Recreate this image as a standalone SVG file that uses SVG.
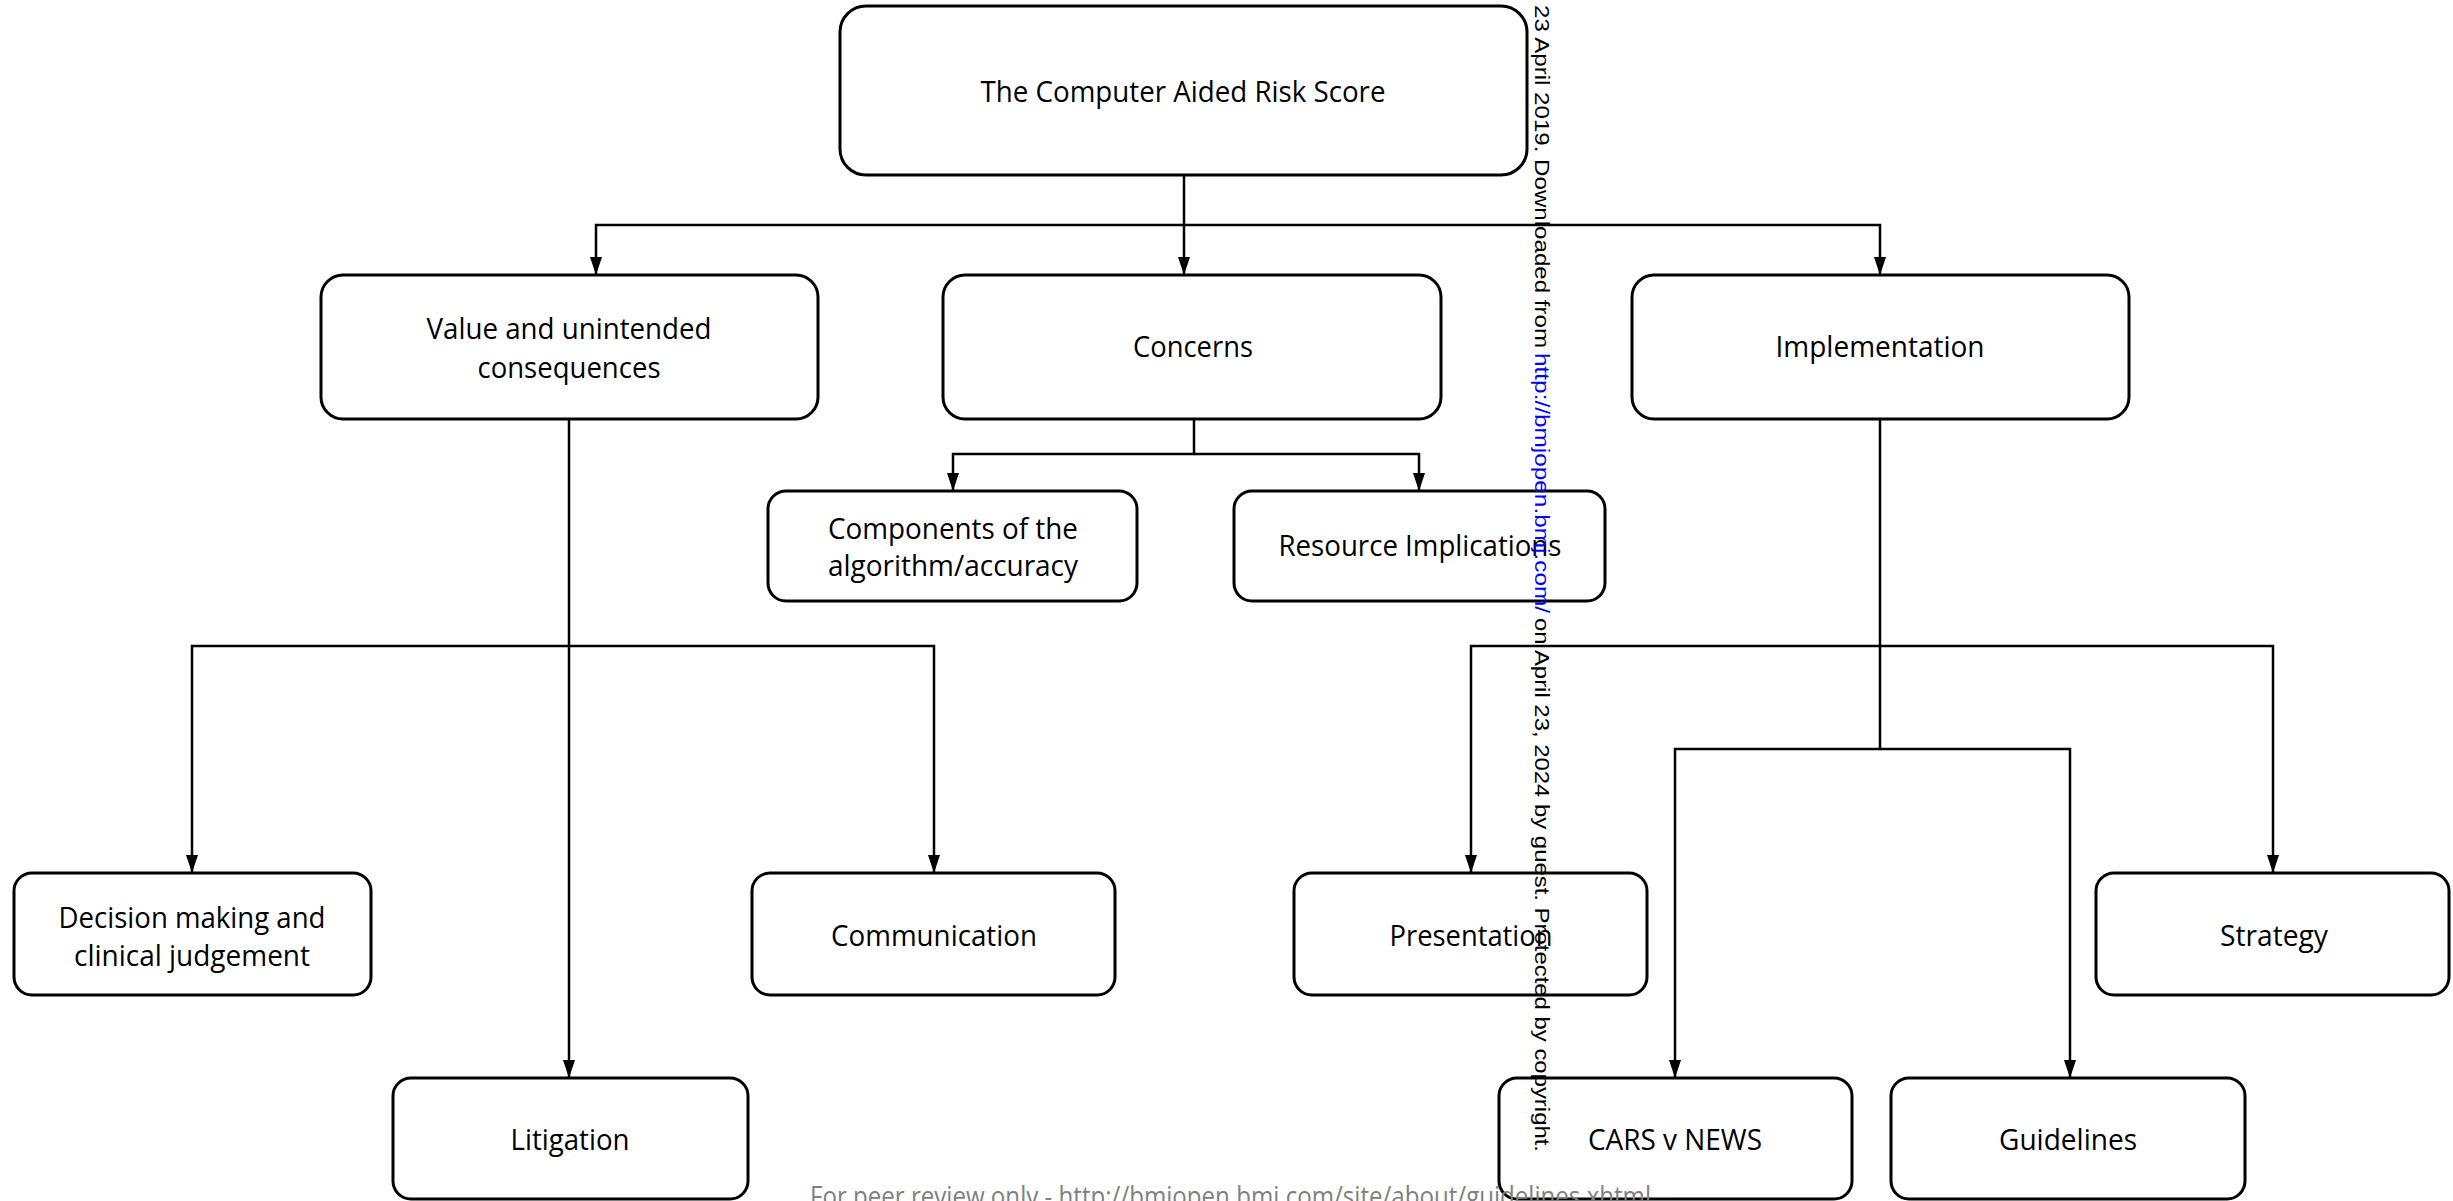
<svg xmlns="http://www.w3.org/2000/svg" width="2453" height="1201" viewBox="0 0 2453 1201">
<style>
.box{fill:#fff;stroke:#000;stroke-width:3}
.lbl{font-family:"Open Sans","Liberation Sans",sans-serif;font-size:29px;fill:#000;text-anchor:middle}
.con{fill:none;stroke:#000;stroke-width:2.5}
.wm{font-family:"Liberation Sans",Arial,sans-serif;font-size:21px;fill:#000}
.foot{font-family:"Open Sans","Liberation Sans",sans-serif;font-size:27px;fill:#808080}
</style>
<defs>
<marker id="ah" viewBox="0 0 18 12" refX="18" refY="6" markerWidth="18" markerHeight="12" markerUnits="userSpaceOnUse" orient="auto">
<path d="M0,0 L18,6 L0,12 z" fill="#000"/>
</marker>
</defs>
<rect width="2453" height="1201" fill="#fff"/>
<g id="connectors">
<path class="con" d="M1184,176 V225"/>
<path class="con" d="M1184,225 V275" marker-end="url(#ah)"/>
<path class="con" d="M1184,225 H596 V275" marker-end="url(#ah)"/>
<path class="con" d="M1184,225 H1880 V275" marker-end="url(#ah)"/>
<path class="con" d="M1194,419 V454 H953 V491" marker-end="url(#ah)"/>
<path class="con" d="M1194,454 H1419 V491" marker-end="url(#ah)"/>
<path class="con" d="M569,419 V1078" marker-end="url(#ah)"/>
<path class="con" d="M569,646 H192 V873" marker-end="url(#ah)"/>
<path class="con" d="M569,646 H934 V873" marker-end="url(#ah)"/>
<path class="con" d="M1880,419 V749"/>
<path class="con" d="M1880,646 H1471 V873" marker-end="url(#ah)"/>
<path class="con" d="M1880,646 H2273 V873" marker-end="url(#ah)"/>
<path class="con" d="M1880,749 H1675 V1078" marker-end="url(#ah)"/>
<path class="con" d="M1880,749 H2070 V1078" marker-end="url(#ah)"/>
</g>
<g id="n-root">
<rect class="box" x="840" y="6" width="687" height="169" rx="26"/>
<text class="lbl" x="1183" y="102" textLength="405" lengthAdjust="spacingAndGlyphs">The Computer Aided Risk Score</text>
</g>
<g id="n-value">
<rect class="box" x="321" y="275" width="497" height="144" rx="22"/>
<text class="lbl" x="569" y="339" textLength="285" lengthAdjust="spacingAndGlyphs">Value and unintended</text>
<text class="lbl" x="569" y="378" textLength="183" lengthAdjust="spacingAndGlyphs">consequences</text>
</g>
<g id="n-concerns">
<rect class="box" x="943" y="275" width="498" height="144" rx="22"/>
<text class="lbl" x="1193" y="357" textLength="120" lengthAdjust="spacingAndGlyphs">Concerns</text>
</g>
<g id="n-impl">
<rect class="box" x="1632" y="275" width="497" height="144" rx="22"/>
<text class="lbl" x="1880" y="357" textLength="209" lengthAdjust="spacingAndGlyphs">Implementation</text>
</g>
<g id="n-components">
<rect class="box" x="768" y="491" width="369" height="110" rx="18"/>
<text class="lbl" x="953" y="539" textLength="250" lengthAdjust="spacingAndGlyphs">Components of the</text>
<text class="lbl" x="953" y="576" textLength="250" lengthAdjust="spacingAndGlyphs">algorithm/accuracy</text>
</g>
<g id="n-resource">
<rect class="box" x="1234" y="491" width="371" height="110" rx="18"/>
<text class="lbl" x="1420" y="556" textLength="283" lengthAdjust="spacingAndGlyphs">Resource Implications</text>
</g>
<g id="n-decision">
<rect class="box" x="14" y="873" width="357" height="122" rx="18"/>
<text class="lbl" x="192" y="928" textLength="267" lengthAdjust="spacingAndGlyphs">Decision making and</text>
<text class="lbl" x="192" y="966" textLength="236" lengthAdjust="spacingAndGlyphs">clinical judgement</text>
</g>
<g id="n-communication">
<rect class="box" x="752" y="873" width="363" height="122" rx="18"/>
<text class="lbl" x="934" y="946" textLength="206" lengthAdjust="spacingAndGlyphs">Communication</text>
</g>
<g id="n-litigation">
<rect class="box" x="393" y="1078" width="355" height="121" rx="18"/>
<text class="lbl" x="570" y="1150" textLength="119" lengthAdjust="spacingAndGlyphs">Litigation</text>
</g>
<g id="n-presentation">
<rect class="box" x="1294" y="873" width="353" height="122" rx="18"/>
<text class="lbl" x="1471" y="946" textLength="163" lengthAdjust="spacingAndGlyphs">Presentation</text>
</g>
<g id="n-strategy">
<rect class="box" x="2096" y="873" width="353" height="122" rx="18"/>
<text class="lbl" x="2274" y="946" textLength="108" lengthAdjust="spacingAndGlyphs">Strategy</text>
</g>
<g id="n-cars">
<rect class="box" x="1499" y="1078" width="353" height="121" rx="18"/>
<text class="lbl" x="1675" y="1150" textLength="174" lengthAdjust="spacingAndGlyphs">CARS v NEWS</text>
</g>
<g id="n-guidelines">
<rect class="box" x="1891" y="1078" width="354" height="121" rx="18"/>
<text class="lbl" x="2068" y="1150" textLength="138" lengthAdjust="spacingAndGlyphs">Guidelines</text>
</g>
<text class="foot" x="810" y="1206" textLength="841" lengthAdjust="spacingAndGlyphs">For peer review only - http://bmjopen.bmj.com/site/about/guidelines.xhtml</text>
<g id="watermark" transform="translate(1535,0) rotate(90)">
<text class="wm" x="5" y="0" textLength="343" lengthAdjust="spacingAndGlyphs">23 April 2019. Downloaded from</text>
<text class="wm" x="353" y="0" style="fill:#0000ff" textLength="260" lengthAdjust="spacingAndGlyphs">http://bmjopen.bmj.com/</text>
<text class="wm" x="618" y="0" textLength="534" lengthAdjust="spacingAndGlyphs">on April 23, 2024 by guest. Protected by copyright.</text>
</g>
</svg>
